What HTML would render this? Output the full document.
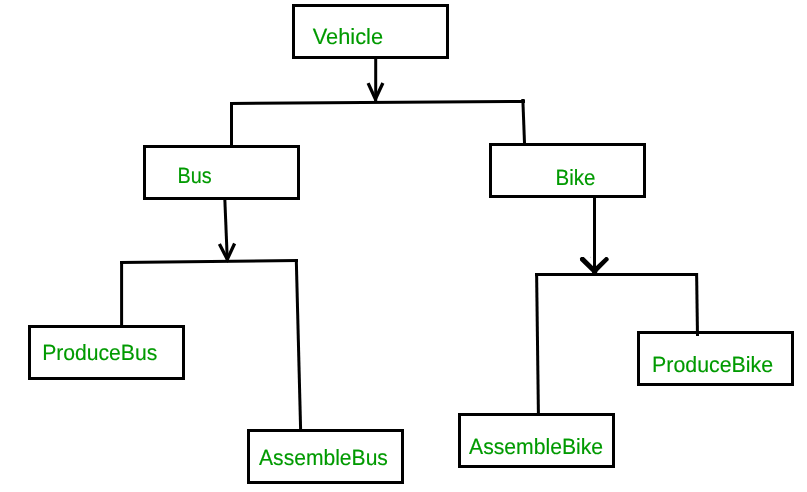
<!DOCTYPE html>
<html><head><meta charset="utf-8">
<style>
html,body{margin:0;padding:0;background:#fff;}
body{width:807px;height:492px;overflow:hidden;}
svg{display:block;}
.t{will-change:transform;}
text{text-rendering:geometricPrecision;font-family:"Liberation Sans",sans-serif;font-size:22px;fill:#009a00;stroke:#009a00;stroke-width:0.15px;}
</style></head>
<body>
<svg width="807" height="492" viewBox="0 0 807 492" xmlns="http://www.w3.org/2000/svg">
<rect width="807" height="492" fill="#fff"/>
<g fill="none" stroke="#000" stroke-width="3">
  <rect x="293.5" y="5.5" width="154" height="52"/>
  <rect x="144.5" y="146.5" width="154" height="52"/>
  <rect x="490.5" y="144.5" width="154" height="52"/>
  <rect x="29.5" y="326.5" width="154" height="52"/>
  <rect x="248.5" y="430.5" width="154" height="52"/>
  <rect x="638.5" y="332.5" width="154" height="52"/>
  <rect x="459.5" y="414.5" width="154" height="52"/>
</g>
<g fill="none" stroke="#000" stroke-width="3" stroke-linecap="butt">
  <line x1="375.7" y1="59" x2="375.7" y2="101"/>
  <polyline points="368.1,83.1 375.4,99.0 382.9,83.0" stroke-width="3.3"/>
  <line x1="230" y1="103.5" x2="525" y2="101.4"/>
  <line x1="231.5" y1="102" x2="231.5" y2="145"/>
  <line x1="522.9" y1="101" x2="524.5" y2="143"/>
  <line x1="224.85" y1="200" x2="227.3" y2="260"/>
  <polyline points="219.4,244.1 227.3,259.3 234.6,243.5" stroke-width="3.3"/>
  <line x1="120" y1="262.5" x2="298" y2="260.5"/>
  <line x1="121.6" y1="261" x2="121.6" y2="325"/>
  <line x1="296.3" y1="260" x2="300.6" y2="429"/>
  <line x1="594.5" y1="198" x2="594.5" y2="273"/>
  
  <line x1="535" y1="274.5" x2="698" y2="274.5"/>
  <line x1="536.6" y1="273" x2="538.4" y2="413"/>
  <line x1="696.6" y1="273" x2="697.5" y2="336"/>
</g>
<rect x="521.1" y="99.1" width="3.8" height="3.9" rx="0.9" fill="#000"/>
<polygon fill="#000" points="581.1,256.9 583.8,256.9 592.9,266.1 596.1,266.1 605.6,256.9 607.2,257 608.6,258.5 608.8,259.9 597.7,271.3 596.8,273.5 592.3,273.5 591.9,272.1 580.1,260.6 579.9,258.2"/>
<rect x="590.1" y="256.8" width="1" height="1" fill="#c8c8c8"/>
<g class="t">
<text transform="translate(0,0.001)" x="312.78" y="43.6" textLength="70.26" lengthAdjust="spacingAndGlyphs">Vehicle</text>
<text transform="translate(0,0.001)" x="177.48" y="182.6" textLength="34.17" lengthAdjust="spacingAndGlyphs">Bus</text>
<text transform="translate(0,0.001)" x="555.50" y="184.6" textLength="39.90" lengthAdjust="spacingAndGlyphs">Bike</text>
<text transform="translate(0,0.001)" x="42.14" y="359.6" textLength="115.17" lengthAdjust="spacingAndGlyphs">ProduceBus</text>
<text transform="translate(0,0.001)" x="259.07" y="464.6" textLength="128.84" lengthAdjust="spacingAndGlyphs">AssembleBus</text>
<text transform="translate(0,0.001)" x="652.11" y="371.6" textLength="121.02" lengthAdjust="spacingAndGlyphs">ProduceBike</text>
<text transform="translate(0,0.001)" x="469.05" y="453.6" textLength="134.07" lengthAdjust="spacingAndGlyphs">AssembleBike</text>
</g>
</svg>
</body></html>
